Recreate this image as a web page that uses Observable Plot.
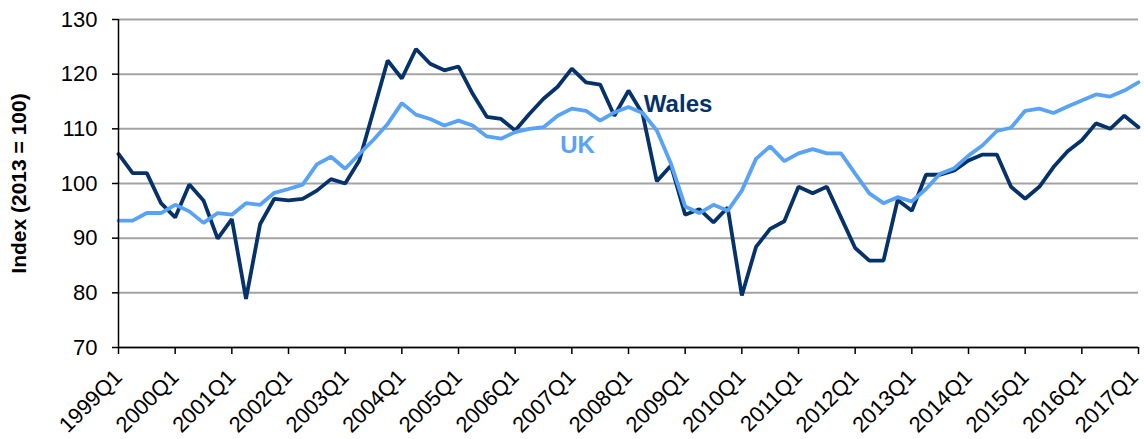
<!DOCTYPE html>
<html>
<head>
<meta charset="utf-8">
<script src="https://cdn.jsdelivr.net/npm/d3@7"></script>
<script src="https://cdn.jsdelivr.net/npm/@observablehq/plot@0.6"></script>
<style>
  html, body { margin: 0; padding: 0; background: #fff; }
  #chart { width: 1144px; height: 439px; }
  svg { font-family: "Liberation Sans", Arial, sans-serif; }
</style>
</head>
<body>
<div id="chart"></div>
<script>
const startYear = 1999;
const quarterCount = 73; // 1999Q1 .. 2017Q1

const wales = [
  105.4, 101.9, 101.9, 96.4, 93.8, 99.8, 96.9, 89.9, 93.5, 78.9,
  92.6, 97.2, 96.9, 97.2, 98.7, 100.8, 100.0, 104.2, 113.3, 122.5,
  119.2, 124.6, 121.9, 120.7, 121.4, 116.4, 112.2, 111.8, 109.7, 112.7,
  115.5, 117.7, 121.0, 118.5, 118.1, 112.4, 117.0, 112.7, 100.4, 103.3,
  94.3, 95.3, 92.9, 95.6, 79.5, 88.4, 91.7, 93.1, 99.4, 98.2,
  99.4, 93.8, 88.2, 85.9, 85.9, 97.0, 95.0, 101.6, 101.6, 102.4,
  104.2, 105.3, 105.3, 99.4, 97.2, 99.4, 103.0, 105.9, 107.9, 111.0,
  110.0, 112.4, 110.3
];
const uk = [
  93.2, 93.2, 94.6, 94.6, 96.1, 94.9, 92.8, 94.6, 94.3, 96.4,
  96.1, 98.3, 99.0, 99.8, 103.5, 104.9, 102.7, 105.4, 108.0, 110.9,
  114.7, 112.6, 111.8, 110.6, 111.5, 110.6, 108.6, 108.2, 109.4, 110.0,
  110.3, 112.4, 113.7, 113.3, 111.5, 113.0, 114.0, 112.9, 109.7, 103.6,
  95.8, 94.6, 96.1, 95.0, 98.7, 104.5, 106.8, 104.1, 105.5, 106.3,
  105.5, 105.5, 101.8, 98.2, 96.4, 97.5, 96.7, 99.0, 101.8, 102.8,
  105.1, 107.0, 109.6, 110.2, 113.3, 113.7, 112.9, 114.1, 115.2, 116.3,
  115.9, 117.0, 118.5
];
const yTicks = [70, 80, 90, 100, 110, 120, 130];
const xTickIdx = d3.range(0, quarterCount, 4);
const seriesNames = ["Wales", "UK"];
const seriesColors = ["#06326b", "#59a3f7"];
const labelPos = [
  {name: "Wales", i: 39.5, v: 114.4},
  {name: "UK", i: 32.4, v: 106.9}
];

const quarterLabel = i => `${startYear + Math.floor(i / 4)}Q${(i % 4) + 1}`;
const lastIdx = quarterCount - 1;

const rows = [];
wales.forEach((v, i) => rows.push({series: "Wales", i, v}));
uk.forEach((v, i) => rows.push({series: "UK", i, v}));

const axisText = {fontSize: 22, tickRotate: -45, color: "#000", label: null};

const chart = Plot.plot({
  width: 1144,
  height: 439,
  marginLeft: 118,
  marginRight: 6,
  marginTop: 19,
  marginBottom: 92,
  style: {fontFamily: "Liberation Sans, Arial, sans-serif", background: "#fff"},
  x: {type: "linear", domain: [0, lastIdx]},
  y: {domain: [70, 130]},
  color: {domain: seriesNames, range: seriesColors},
  marks: [
    Plot.gridY(yTicks, {stroke: "#a3a3a3", strokeWidth: 2, strokeOpacity: 1}),
    Plot.line(rows, {x: "i", y: "v", z: "series", stroke: "series", strokeWidth: 3.8, strokeLinejoin: "miter"}),
    Plot.ruleX([0], {stroke: "#000", strokeWidth: 1.5}),
    Plot.ruleY([70], {stroke: "#000", strokeWidth: 1.5}),
    Plot.axisY(yTicks, {tickSize: 6, tickPadding: 15, fontSize: 22, stroke: "#000", strokeWidth: 1.5, color: "#000", label: null}),
    Plot.axisX(xTickIdx, {...axisText, tickSize: 7, tickPadding: 19, stroke: "#000", strokeWidth: 1.5,
      tickFormat: i => i === lastIdx ? "" : quarterLabel(i)}),
    Plot.axisX([lastIdx], {...axisText, tickSize: 0, tickPadding: 26, dx: -4, tickFormat: quarterLabel}),
    Plot.text(labelPos, {x: "i", y: "v", text: "name", fill: "name", fontSize: 24, fontWeight: "bold"}),
    Plot.text(["Index (2013 = 100)"], {frameAnchor: "left", textAnchor: "middle", dx: -99, rotate: -90, fontSize: 21, fontWeight: "bold", fill: "#000"})
  ]
});
document.getElementById("chart").appendChild(chart);
</script>
</body>
</html>
